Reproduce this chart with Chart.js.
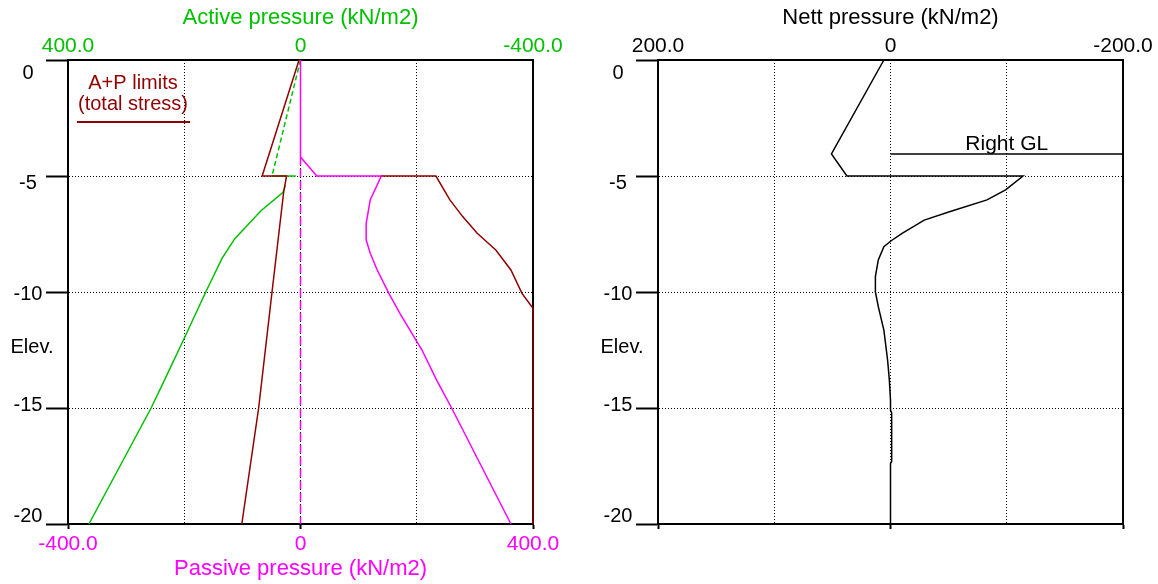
<!DOCTYPE html>
<html>
<head>
<meta charset="utf-8">
<script src="https://cdn.jsdelivr.net/npm/chart.js@4.4.2/dist/chart.umd.min.js"></script>
<style>
  html, body { margin: 0; padding: 0; background: #fff; }
  #wrap { position: relative; width: 1158px; height: 584px; }
  #wrap canvas { position: absolute; top: 0; }
  #pressureChart { left: 0; }
  #nettChart { left: 580px; }
</style>
</head>
<body>
<div id="wrap">
  <canvas id="pressureChart" width="580" height="584"></canvas>
  <canvas id="nettChart" width="578" height="584"></canvas>
</div>
<script>
const GREEN = '#00c000';
const MAGENTA = '#ff00ff';
const BROWN = '#900000';
const FONT = '"Liberation Sans", Arial, sans-serif';

const elevTicks = [0, -5, -10, -15, -20];

// active side, read on the top (reversed) axis
const activeLimitElev = [0, -5, -5, -5.7, -10, -15, -20];
const activeLimitKpa = [2.5, 66, 24, 29, 49, 72, 101];
const activeUpperElev = [0, -5];
const activeUpperKpa = [0, 49];
const activeStepElev = [-5, -5];
const activeStepKpa = [49, 8];
const activeElev = [-5.4, -5.7, -6.5, -7.7, -8.55, -10, -12.1, -13.8, -15, -20];
const activeKpa = [26, 30, 68, 113, 135, 163, 202, 234, 257, 364];

// passive side, read on the bottom axis
const passiveTopElev = [0, -4.18];
const passiveTopKpa = [0, 0];
const passiveWallElev = [-4.18, -20];
const passiveWallKpa = [0, 0];
const passiveElev = [-4.18, -5, -5, -6.03, -7.04, -7.76, -8.33, -9.05, -10.06, -10.92, -12.5, -13.79, -15, -20];
const passiveKpa = [0, 28, 139, 120, 113, 113, 120, 132, 152, 171, 209, 234, 260, 362];
const passiveLimitElev = [-5, -5, -6.03, -6.75, -7.47, -8.19, -9.05, -10.06, -10.7, -20];
const passiveLimitKpa = [139, 233, 257, 279, 304, 336, 362, 381, 400, 400];

// nett pressure (right panel)
const nettElev = [0, -4.05, -5, -5, -5.6, -6.03, -6.53, -6.9, -7.47, -7.79, -8.05, -8.62, -9.34, -10, -10.63, -11.64, -12.93, -13.79, -14.66, -15.1, -15.2, -17.3, -17.4, -20];
const nettKpa = [5.7, 50.8, 37.5, -114, -99, -83, -51.4, -29, -10, -0.6, 5.7, 10.5, 13, 13, 10.5, 5.7, 2.5, 1, 0, 0, -1, -1, 0, 0];
const rightGlElev = [-4.05, -4.05];
const rightGlKpa = [0, -200];

const pts = (xs, ys) => ys.map((y, i) => ({ x: xs[i], y }));
const fix = size => scale => {
  if (scale.isHorizontal()) scale.height = size; else scale.width = size;
};
const fmt = v => (v === 0 ? '0' : v.toFixed(1));

const line = (data, color, xAxisID, extra) => Object.assign({
  data, xAxisID, yAxisID: 'y',
  borderColor: color, borderWidth: 1.5,
  showLine: true, pointRadius: 0, fill: false, clip: 4
}, extra || {});

const elevAxis = width => ({
  type: 'linear', position: 'left', min: -20, max: 0, afterFit: fix(width),
  ticks: { stepSize: 5, display: false },
  grid: { color: '#000', lineWidth: 1, tickLength: 22, tickWidth: 2, tickColor: '#000', tickBorderDash: [] },
  border: { display: true, color: '#000', width: 2, dash: [1, 2] }
});
const rightEdge = width => ({
  type: 'linear', position: 'right', min: -20, max: 0, afterFit: fix(width),
  ticks: { display: false }, grid: { display: false },
  border: { display: true, color: '#000', width: 2 }
});

const elevLabels = {
  id: 'elevLabels',
  afterDraw(chart) {
    const { ctx, chartArea } = chart;
    const y = chart.scales.y;
    ctx.save();
    ctx.fillStyle = '#000';
    ctx.font = '20px ' + FONT;
    ctx.textAlign = 'center';
    ctx.textBaseline = 'middle';
    elevTicks.forEach(v => {
      ctx.fillText(String(v), chartArea.left - 40, y.getPixelForValue(v) + 13 + v * 1.05);
    });
    ctx.fillText('Elev.', chartArea.left - 36, y.getPixelForValue(-12.4));
    ctx.restore();
  }
};

const limitsNote = {
  id: 'limitsNote',
  afterDraw(chart) {
    const { ctx } = chart;
    ctx.save();
    ctx.fillStyle = BROWN;
    ctx.font = '20px ' + FONT;
    ctx.textAlign = 'center';
    ctx.textBaseline = 'alphabetic';
    ctx.fillText('A+P limits', 133, 89);
    ctx.fillText('(total stress)', 133, 110);
    ctx.fillRect(77, 121, 113, 2);
    ctx.restore();
  }
};

const glNote = {
  id: 'glNote',
  afterDraw(chart) {
    const { ctx } = chart;
    ctx.save();
    ctx.fillStyle = '#000';
    ctx.font = '21px ' + FONT;
    ctx.textAlign = 'center';
    ctx.textBaseline = 'alphabetic';
    ctx.fillText('Right GL', chart.scales.xn.getPixelForValue(-100), chart.scales.y.getPixelForValue(rightGlElev[0]) - 4);
    ctx.restore();
  }
};

Chart.defaults.font.family = FONT;

new Chart(document.getElementById('pressureChart'), {
  type: 'scatter',
  data: {
    datasets: [
      line(pts(passiveWallKpa, passiveWallElev), MAGENTA, 'x', { borderDash: [8, 4] }),
      line(pts(passiveTopKpa, passiveTopElev), MAGENTA, 'x'),
      line(pts(activeUpperKpa, activeUpperElev), GREEN, 'xa', { borderDash: [5, 3] }),
      line(pts(activeLimitKpa, activeLimitElev), BROWN, 'xa'),
      line(pts(activeStepKpa, activeStepElev), GREEN, 'xa'),
      line(pts(activeKpa, activeElev), GREEN, 'xa'),
      line(pts(passiveLimitKpa, passiveLimitElev), BROWN, 'x'),
      line(pts(passiveKpa, passiveElev), MAGENTA, 'x')
    ]
  },
  options: {
    responsive: false,
    animation: false,
    layout: { padding: 0 },
    plugins: { legend: { display: false }, tooltip: { enabled: false } },
    scales: {
      x: {
        type: 'linear', position: 'bottom', min: -400, max: 400, afterFit: fix(60),
        ticks: { stepSize: 200, color: MAGENTA, font: { size: 21 }, padding: 3, maxRotation: 0, autoSkip: false,
          callback: v => (v % 400 === 0 ? fmt(v) : '') },
        grid: { color: '#000', lineWidth: 1, tickLength: 5, tickWidth: 2, tickBorderDash: [],
          tickColor: ctx => (ctx.tick && ctx.tick.value % 400 === 0 ? '#000' : 'rgba(0,0,0,0)') },
        border: { display: true, color: '#000', width: 2, dash: [1, 2] },
        title: { display: true, text: 'Passive pressure (kN/m2)', color: MAGENTA, font: { size: 22 }, padding: { top: 0, bottom: 2 } }
      },
      xa: {
        type: 'linear', position: 'top', reverse: true, min: -400, max: 400, afterFit: fix(60),
        ticks: { stepSize: 400, color: GREEN, font: { size: 21 }, padding: 1, maxRotation: 0, callback: v => fmt(v) },
        grid: { drawOnChartArea: false, drawTicks: false },
        border: { display: true, color: '#000', width: 2 },
        title: { display: true, text: 'Active pressure (kN/m2)', color: GREEN, font: { size: 22 }, padding: { top: 5, bottom: 0 } }
      },
      y: elevAxis(68),
      yr: rightEdge(47)
    }
  },
  plugins: [elevLabels, limitsNote]
});

new Chart(document.getElementById('nettChart'), {
  type: 'scatter',
  data: {
    datasets: [
      line(pts(rightGlKpa, rightGlElev), '#000', 'xn'),
      line(pts(nettKpa, nettElev), '#000', 'xn')
    ]
  },
  options: {
    responsive: false,
    animation: false,
    layout: { padding: 0 },
    plugins: { legend: { display: false }, tooltip: { enabled: false } },
    scales: {
      x: {
        type: 'linear', position: 'bottom', min: -200, max: 200, afterFit: fix(60),
        ticks: { stepSize: 100, display: false },
        grid: { color: '#000', lineWidth: 1, tickLength: 5, tickWidth: 2, tickBorderDash: [],
          tickColor: ctx => (ctx.tick && ctx.tick.value % 200 === 0 ? '#000' : 'rgba(0,0,0,0)') },
        border: { display: true, color: '#000', width: 2, dash: [1, 2] }
      },
      xn: {
        type: 'linear', position: 'top', reverse: true, min: -200, max: 200, afterFit: fix(60),
        ticks: { stepSize: 200, color: '#000', font: { size: 21 }, padding: 1, maxRotation: 0, callback: v => fmt(v) },
        grid: { drawOnChartArea: false, drawTicks: false },
        border: { display: true, color: '#000', width: 2 },
        title: { display: true, text: 'Nett pressure (kN/m2)', color: '#000', font: { size: 22 }, padding: { top: 5, bottom: 0 } }
      },
      y: elevAxis(78),
      yr: rightEdge(35)
    }
  },
  plugins: [elevLabels, glNote]
});
</script>
</body>
</html>
